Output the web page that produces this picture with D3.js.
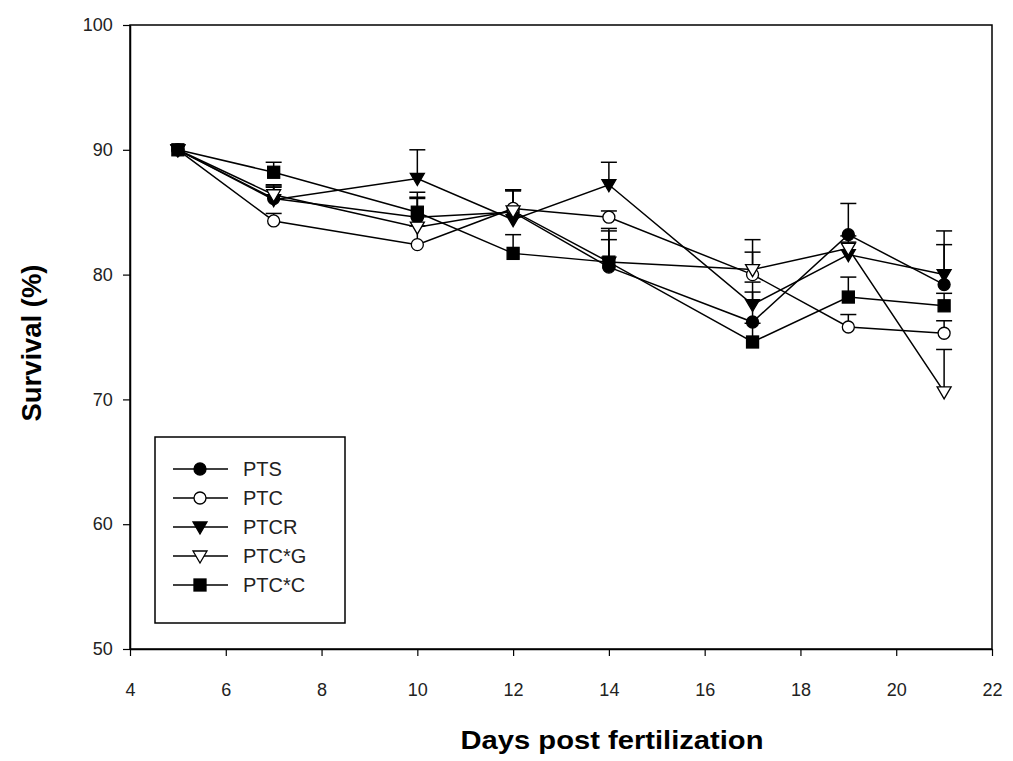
<!DOCTYPE html>
<html>
<head>
<meta charset="utf-8">
<script src="https://cdn.jsdelivr.net/npm/d3@7"></script>
<style>
  body { margin: 0; background: #fff; }
  text { font-family: "Liberation Sans", Arial, sans-serif; }
</style>
</head>
<body>
<div id="chart"></div>
<script>
// data
const days = [5, 7, 10, 12, 14, 17, 19, 21];
const seriesNames = ["PTS", "PTC", "PTCR", "PTC*G", "PTC*C"];
const pts   = [90, 86.1, 84.6, 85.0, 80.6, 76.2, 83.2, 79.2];
const ptc   = [90, 84.3, 82.4, 85.3, 84.6, 80.0, 75.8, 75.3];
const ptcr  = [90, 86.0, 87.7, 84.4, 87.2, 77.6, 81.6, 80.0];
const ptcG  = [90, 86.4, 83.8, 85.1, 81.0, 80.4, 82.1, 70.6];
const ptcC  = [90, 88.2, 85.0, 81.7, 81.0, 74.6, 78.2, 77.5];
// upper error bars (SE)
const ptsErr  = [0, 1.0, 2.0, 1.8, 3.1, 2.4, 2.5, 3.2];
const ptcErr  = [0, 0.6, 1.5, 1.5, 0.5, 1.8, 1.0, 1.0];
const ptcrErr = [0, 1.0, 2.3, 2.4, 1.8, 1.8, 1.0, 3.5];
const ptcGErr = [0, 0.8, 2.3, 1.6, 2.5, 2.4, 1.0, 3.4];
const ptcCErr = [0, 0.8, 1.2, 1.5, 1.8, 1.5, 1.6, 1.0];
const xTicks = [4, 6, 8, 10, 12, 14, 16, 18, 20, 22];
const yTicks = [50, 60, 70, 80, 90, 100];

const series = [
  { name: seriesNames[0], vals: pts,  err: ptsErr,  shape: "circle",   fill: "#000" },
  { name: seriesNames[1], vals: ptc,  err: ptcErr,  shape: "circle",   fill: "#fff" },
  { name: seriesNames[2], vals: ptcr, err: ptcrErr, shape: "triangle", fill: "#000" },
  { name: seriesNames[3], vals: ptcG, err: ptcGErr, shape: "triangle", fill: "#fff" },
  { name: seriesNames[4], vals: ptcC, err: ptcCErr, shape: "square",   fill: "#000" }
];

const W = 1013, H = 761;
const mLeft = 130, mRight = 992, mTop = 25, mBottom = 649;

const svg = d3.select("#chart").append("svg")
  .attr("width", W).attr("height", H);

const x = d3.scaleLinear().domain([4, 22]).range([mLeft, mRight]);
const y = d3.scaleLinear().domain([50, 100]).range([mBottom, mTop]);

// frame
svg.append("rect")
  .attr("x", mLeft).attr("y", mTop)
  .attr("width", mRight - mLeft).attr("height", mBottom - mTop)
  .attr("fill", "none").attr("stroke", "#000").attr("stroke-width", 1.5);

// axes
const xAxis = svg.append("g")
  .attr("transform", "translate(0," + mBottom + ")")
  .call(d3.axisBottom(x).tickValues(xTicks).tickSize(7).tickSizeOuter(0));
const yAxis = svg.append("g")
  .attr("transform", "translate(" + mLeft + ",0)")
  .call(d3.axisLeft(y).tickValues(yTicks).tickSize(7).tickSizeOuter(0));

[xAxis, yAxis].forEach(function (g) {
  g.select(".domain").attr("stroke-width", 1.5);
  g.selectAll(".tick line").attr("stroke-width", 1.2);
  g.selectAll(".tick text")
    .attr("font-size", 18)
    .attr("font-family", "Liberation Sans, Arial, sans-serif")
    .attr("fill", "#222");
});
xAxis.selectAll(".tick text").attr("dy", "2.05em");
yAxis.selectAll(".tick text").attr("dx", "-0.4em");

// axis titles
svg.append("text")
  .attr("x", 612).attr("y", 749)
  .attr("text-anchor", "middle")
  .attr("font-size", 25).attr("font-weight", "bold")
  .attr("textLength", 303).attr("lengthAdjust", "spacingAndGlyphs")
  .text("Days post fertilization");

svg.append("text")
  .attr("transform", "translate(41,343) rotate(-90)")
  .attr("text-anchor", "middle")
  .attr("font-size", 27).attr("font-weight", "bold")
  .attr("textLength", 157).attr("lengthAdjust", "spacingAndGlyphs")
  .text("Survival (%)");

// marker drawing
function marker(g, shape, fill, cx, cy) {
  if (shape === "circle") {
    g.append("circle").attr("cx", cx).attr("cy", cy).attr("r", 6)
      .attr("fill", fill).attr("stroke", "#000").attr("stroke-width", 1.3);
  } else if (shape === "square") {
    g.append("rect").attr("x", cx - 6).attr("y", cy - 6)
      .attr("width", 12).attr("height", 12)
      .attr("fill", fill).attr("stroke", "#000").attr("stroke-width", 1.3);
  } else {
    g.append("path")
      .attr("d", "M" + (cx - 7) + "," + (cy - 5) + "L" + (cx + 7) + "," + (cy - 5) + "L" + cx + "," + (cy + 7) + "Z")
      .attr("fill", fill).attr("stroke", "#000").attr("stroke-width", 1.3);
  }
}

const line = d3.line()
  .x(function (d) { return x(d[0]); })
  .y(function (d) { return y(d[1]); });

const plot = svg.append("g");

series.forEach(function (s) {
  const pts2 = days.map(function (d, i) { return [d, s.vals[i]]; });
  plot.append("path")
    .datum(pts2)
    .attr("d", line)
    .attr("fill", "none").attr("stroke", "#000").attr("stroke-width", 1.5);
});

series.forEach(function (s) {
  days.forEach(function (d, i) {
    if (s.err[i] <= 0) return;
    const cx = x(d), y0 = y(s.vals[i]), y1 = y(s.vals[i] + s.err[i]);
    plot.append("line").attr("x1", cx).attr("x2", cx).attr("y1", y0).attr("y2", y1)
      .attr("stroke", "#000").attr("stroke-width", 1.5);
    plot.append("line").attr("x1", cx - 8).attr("x2", cx + 8).attr("y1", y1).attr("y2", y1)
      .attr("stroke", "#000").attr("stroke-width", 1.5);
  });
});

series.forEach(function (s) {
  days.forEach(function (d, i) {
    marker(plot, s.shape, s.fill, x(d), y(s.vals[i]));
  });
});

// legend
const leg = svg.append("g");
leg.append("rect")
  .attr("x", 155).attr("y", 437).attr("width", 190).attr("height", 186)
  .attr("fill", "#fff").attr("stroke", "#000").attr("stroke-width", 1.5);

series.forEach(function (s, i) {
  const ly = 469 + i * 29;
  leg.append("line").attr("x1", 173).attr("x2", 228).attr("y1", ly).attr("y2", ly)
    .attr("stroke", "#000").attr("stroke-width", 1.5);
  marker(leg, s.shape, s.fill, 200, ly);
  leg.append("text")
    .attr("x", 243).attr("y", ly + 7)
    .attr("font-size", 20)
    .attr("fill", "#222")
    .text(s.name);
});
</script>
</body>
</html>
